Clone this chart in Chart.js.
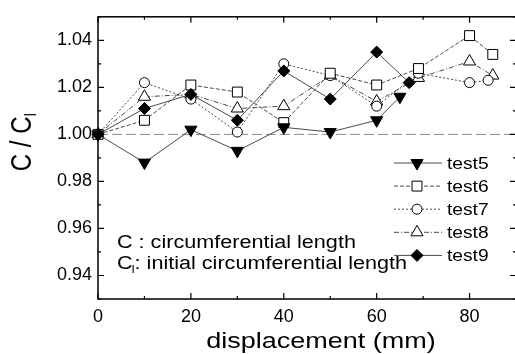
<!DOCTYPE html>
<html>
<head>
<meta charset="utf-8">
<script src="https://cdn.jsdelivr.net/npm/chart.js@4.4.0/dist/chart.umd.min.js"></script>
<style>
  html, body { margin: 0; padding: 0; background: #fff; overflow: hidden; width: 515px; height: 354px; }
  canvas { display: block; }
</style>
</head>
<body>
<canvas id="chart" width="524" height="354"></canvas>
<script>
// C / CI against displacement (mm)
const test5X = [0, 10, 20, 30, 40, 50, 60, 65];
const test5Y = [1.000, 0.988, 1.002, 0.993, 1.003, 1.001, 1.006, 1.016];
const test6X = [0, 10, 20, 30, 40, 50, 60, 69, 80, 85];
const test6Y = [1.000, 1.006, 1.021, 1.018, 1.005, 1.026, 1.021, 1.028, 1.042, 1.034];
const test7X = [0, 10, 20, 30, 40, 50, 60, 69, 80, 84];
const test7Y = [1.000, 1.022, 1.015, 1.001, 1.030, 1.025, 1.012, 1.026, 1.022, 1.023];
const test8X = [0, 10, 20, 30, 40, 50, 60, 69, 80, 85];
const test8Y = [1.000, 1.016, 1.017, 1.011, 1.012, 1.025, 1.014, 1.024, 1.031, 1.025];
const test9X = [0, 10, 20, 30, 40, 50, 60, 67];
const test9Y = [1.000, 1.011, 1.017, 1.006, 1.027, 1.015, 1.035, 1.022];
const baseX = [0, 90];
const baseY = [1.0, 1.0];

const xTicks = [0, 20, 40, 60, 80];
const xMinorTicks = [10, 30, 50, 70];
const yTicks = [0.94, 0.96, 0.98, 1.00, 1.02, 1.04];
const yMinorTicks = [0.93, 0.95, 0.97, 0.99, 1.01, 1.03, 1.05];

const FONT = '"Liberation Sans", Arial, sans-serif';
const LINE = '#4a4a4a';
const STRETCH = 1.2; // the scanned figure is a bit wider than tall

function toPoints(xs, ys) {
    return xs.map((x, i) => ({ x: x, y: ys[i] }));
}

function series(label, xs, ys, style) {
    return Object.assign({
        label: label,
        data: toPoints(xs, ys),
        borderColor: LINE,
        borderWidth: 1,
        pointBorderColor: '#000',
        pointBorderWidth: 1,
        pointHoverRadius: 0,
        tension: 0,
        clip: false
    }, style);
}

const datasets = [
    series('test9', test9X, test9Y, { pointStyle: 'rectRot', pointRadius: 6, pointBackgroundColor: '#000', order: 0 }),
    series('test5', test5X, test5Y, { pointStyle: 'triangle', pointRotation: 180, pointRadius: 7, pointBackgroundColor: '#000', order: 1 }),
    series('test6', test6X, test6Y, { pointStyle: 'rect', pointRadius: 7, pointBackgroundColor: '#fff', borderDash: [4, 2], order: 2 }),
    series('test7', test7X, test7Y, { pointStyle: 'circle', pointRadius: 5, pointBackgroundColor: '#fff', borderDash: [2, 2], order: 3 }),
    series('test8', test8X, test8Y, { pointStyle: 'triangle', pointRadius: 7, pointBackgroundColor: '#fff', borderDash: [5, 2, 1, 2], order: 4 }),
    { label: 'base', data: toPoints(baseX, baseY), borderColor: '#8a8a8a', borderWidth: 1,
      borderDash: [10, 4], pointRadius: 0, order: 5 }
];

const legendOrder = ['test5', 'test6', 'test7', 'test8', 'test9'];

function stretchText(ctx, text, x, y, size, align) {
    ctx.save();
    ctx.translate(x, y);
    ctx.scale(STRETCH, 1);
    ctx.font = size + 'px ' + FONT;
    ctx.textAlign = align || 'left';
    ctx.textBaseline = 'alphabetic';
    ctx.fillStyle = '#000';
    ctx.fillText(text, 0, 0);
    ctx.restore();
}

function textWidth(ctx, text, size) {
    ctx.save();
    ctx.font = size + 'px ' + FONT;
    const w = ctx.measureText(text).width * STRETCH;
    ctx.restore();
    return w;
}

const framePlugin = {
    id: 'frame',
    afterDraw(chart) {
        const ctx = chart.ctx;
        const a = chart.chartArea;
        const xs = chart.scales.x;
        const ys = chart.scales.y;

        ctx.save();
        ctx.strokeStyle = '#000';
        ctx.lineWidth = 1.5;
        ctx.strokeRect(a.left, a.top, a.right - a.left, a.bottom - a.top);

        // inward ticks on all four sides
        ctx.lineWidth = 1.2;
        ctx.beginPath();
        const xTick = (v, len) => {
            const p = xs.getPixelForValue(v);
            ctx.moveTo(p, a.bottom); ctx.lineTo(p, a.bottom - len);
            ctx.moveTo(p, a.top); ctx.lineTo(p, a.top + len);
        };
        const yTick = (v, len) => {
            const p = ys.getPixelForValue(v);
            ctx.moveTo(a.left, p); ctx.lineTo(a.left + len, p);
            ctx.moveTo(a.right, p); ctx.lineTo(a.right - len, p);
        };
        xTicks.forEach(v => xTick(v, 6));
        xMinorTicks.forEach(v => xTick(v, 3));
        yTicks.forEach(v => yTick(v, 6));
        yMinorTicks.forEach(v => yTick(v, 3));
        ctx.stroke();
        ctx.restore();

        // legend: line + marker + label
        legendOrder.forEach((name, i) => {
            const ds = chart.data.datasets.find(d => d.label === name);
            const y = 163 + i * 23.1;
            ctx.save();
            ctx.strokeStyle = LINE;
            ctx.lineWidth = 1;
            ctx.setLineDash(ds.borderDash || []);
            ctx.beginPath();
            ctx.moveTo(394, y);
            ctx.lineTo(442, y);
            ctx.stroke();
            ctx.setLineDash([]);
            ctx.fillStyle = ds.pointBackgroundColor;
            ctx.strokeStyle = '#000';
            ctx.lineWidth = 1;
            Chart.helpers.drawPoint(ctx, {
                pointStyle: ds.pointStyle,
                radius: ds.pointRadius,
                rotation: ds.pointRotation || 0,
                borderWidth: 1
            }, 417, y);
            ctx.restore();
            stretchText(ctx, name, 447, y + 6, 16, 'left');
        });

        // note in the lower left
        stretchText(ctx, 'C : circumferential length', 117, 248, 18);
        const cEnd = 117 + textWidth(ctx, 'C', 18);
        stretchText(ctx, 'C', 117, 268.5, 18);
        stretchText(ctx, 'I', cEnd - 1, 273, 10);
        stretchText(ctx, ': initial circumferential length', cEnd + 2, 268.5, 18);

        // axis titles
        stretchText(ctx, 'displacement (mm)', 321, 348, 22.5, 'center');

        ctx.save();
        ctx.translate(21, 142);
        ctx.scale(STRETCH, 1);
        ctx.rotate(-Math.PI / 2);
        ctx.font = '24px ' + FONT;
        ctx.fillStyle = '#000';
        ctx.textBaseline = 'alphabetic';
        const main = 'C / C';
        const wMain = ctx.measureText(main).width;
        ctx.font = '13px ' + FONT;
        const wSub = ctx.measureText('I').width;
        const start = -(wMain + wSub) / 2;
        ctx.font = '24px ' + FONT;
        ctx.fillText(main, start, 8.5);
        ctx.font = '13px ' + FONT;
        ctx.fillText('I', start + wMain, 12.5);
        ctx.restore();
    }
};

new Chart(document.getElementById('chart'), {
    type: 'line',
    data: { datasets: datasets },
    options: {
        responsive: false,
        animation: false,
        devicePixelRatio: 1,
        layout: { padding: { top: 12, right: 5, left: 0, bottom: 0 } },
        plugins: { legend: { display: false }, tooltip: { enabled: false } },
        scales: {
            x: {
                type: 'linear',
                min: 0,
                max: 90,
                afterFit: s => { s.height = 55; },
                afterBuildTicks: s => { s.ticks = xTicks.map(v => ({ value: v })); },
                grid: { display: false, drawTicks: false },
                border: { display: false },
                ticks: { color: '#000', font: { family: FONT, size: 18 }, padding: 7, maxRotation: 0 }
            },
            y: {
                type: 'linear',
                min: 0.93,
                max: 1.05,
                afterFit: s => { s.width = 98; },
                afterBuildTicks: s => { s.ticks = yTicks.map(v => ({ value: v })); },
                grid: { display: false, drawTicks: false },
                border: { display: false },
                ticks: { color: '#000', font: { family: FONT, size: 18 }, padding: 6,
                         callback: v => v.toFixed(2) }
            }
        }
    },
    plugins: [framePlugin]
});
</script>
</body>
</html>
